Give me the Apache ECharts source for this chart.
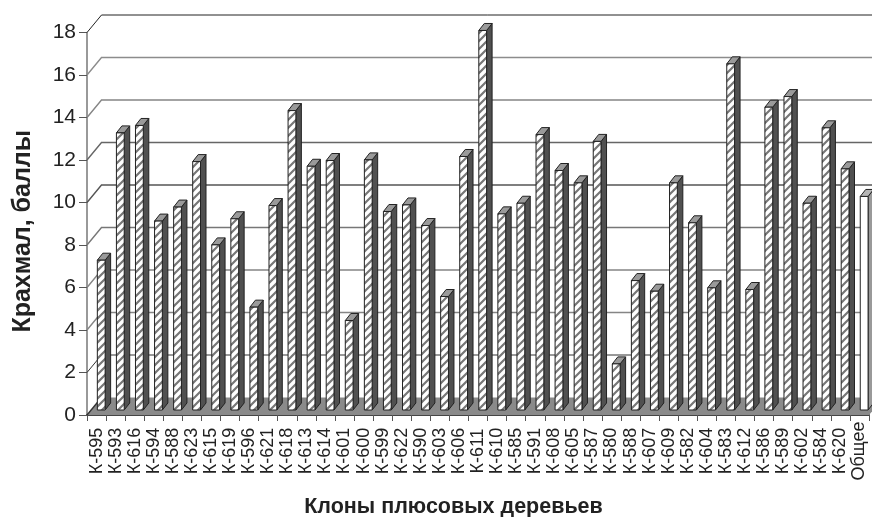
<!DOCTYPE html>
<html>
<head>
<meta charset="utf-8">
<style>
  html, body { margin: 0; padding: 0; background: #fff; }
  #chart { width: 872px; height: 517px; overflow: hidden; }
</style>
</head>
<body>
<div id="chart"></div>
<script src="https://cdn.jsdelivr.net/npm/echarts@6/dist/echarts.min.js"></script>
<script>
// chart data
var clones = ['К-595', 'К-593', 'К-616', 'К-594', 'К-588', 'К-623', 'К-615', 'К-619', 'К-596', 'К-621',
  'К-618', 'К-613', 'К-614', 'К-601', 'К-600', 'К-599', 'К-622', 'К-590', 'К-603', 'К-606',
  'К-611', 'К-610', 'К-585', 'К-591', 'К-608', 'К-605', 'К-587', 'К-580', 'К-588', 'К-607',
  'К-609', 'К-582', 'К-604', 'К-583', 'К-612', 'К-586', 'К-589', 'К-602', 'К-584', 'К-620', 'Общее']
var starch = [7.05, 13.04, 13.39, 8.89, 9.55, 11.69, 7.77, 9.0, 4.84, 9.62,
  14.09, 11.47, 11.74, 4.21, 11.77, 9.34, 9.65, 8.68, 5.34, 11.93,
  17.86, 9.23, 9.73, 12.96, 11.27, 10.69, 12.64, 2.17, 6.09, 5.59,
  10.69, 8.81, 5.75, 16.29, 5.67, 14.25, 14.75, 9.73, 13.28, 11.35, 10.05]
var yTicks = [0, 2, 4, 6, 8, 10, 12, 14, 16, 18]

// look of the 3d box
var WALL_DX = 14.5
var WALL_DY = 17.5
var BAR_DX = 5.5
var BAR_DY = 7
var BAR_SHIFT_X = 0.8
var BAR_SHIFT_Y = 5
var BAR_W = 7.8
var gridColors = { 18: '#222', 16: '#8c8c8c', 14: '#858585', 12: '#666', 10: '#555', 8: '#777', 6: '#858585', 4: '#858585', 2: '#333' }

function makeHatch() {
  var c = document.createElement('canvas')
  c.width = 8
  c.height = 8
  var ctx = c.getContext('2d')
  ctx.fillStyle = '#fff'
  ctx.fillRect(0, 0, 8, 8)
  ctx.strokeStyle = '#777'
  ctx.lineWidth = 2.2
  ctx.beginPath()
  ctx.moveTo(-2, 10)
  ctx.lineTo(10, -2)
  ctx.moveTo(-6, 6)
  ctx.lineTo(6, -6)
  ctx.moveTo(2, 14)
  ctx.lineTo(14, 2)
  ctx.stroke()
  return c
}
var hatch = { image: makeHatch(), repeat: 'repeat' }

function renderFloor(params) {
  var cs = params.coordSys
  var y0 = cs.y + cs.height
  var x0 = cs.x
  var x1 = cs.x + cs.width
  return {
    type: 'polygon',
    shape: { points: [[x0, y0], [x0 + WALL_DX, y0 - WALL_DY], [x1 + WALL_DX, y0 - WALL_DY], [x1, y0]] },
    style: { fill: '#8a8a8a', stroke: null }
  }
}

function renderWall(params, api) {
  var cs = params.coordSys
  var v = api.value(0)
  var y = api.coord([0, v])[1]
  var pts = [[cs.x, y], [cs.x + WALL_DX, y - WALL_DY]]
  if (v > 0) {
    pts.push([cs.x + cs.width + WALL_DX, y - WALL_DY])
  }
  return {
    type: 'polyline',
    shape: { points: pts },
    style: { fill: null, stroke: gridColors[v] || '#333', lineWidth: v === 18 || v === 2 ? 1 : 1.4 }
  }
}

function renderBar(params, api) {
  var i = api.value(0)
  var top = api.coord([i, api.value(1)])
  var base = api.coord([i, 0])
  var l = top[0] + BAR_SHIFT_X
  var r = l + BAR_W
  var t = top[1] - BAR_SHIFT_Y
  var b = base[1] - BAR_SHIFT_Y
  var total = i === clones.length - 1
  var edge = { stroke: '#222', lineWidth: 1 }
  return {
    type: 'group',
    children: [
      {
        type: 'polygon',
        shape: { points: [[r, b], [r + BAR_DX, b - BAR_DY], [r + BAR_DX, t - BAR_DY], [r, t]] },
        style: Object.assign({ fill: total ? '#999' : '#505050' }, edge)
      },
      {
        type: 'polygon',
        shape: { points: [[l, t], [l + BAR_DX, t - BAR_DY], [r + BAR_DX, t - BAR_DY], [r, t]] },
        style: Object.assign({ fill: total ? '#b5b5b5' : '#9a9a9a' }, edge)
      },
      {
        type: 'rect',
        shape: { x: l, y: t, width: BAR_W, height: b - t },
        style: Object.assign({ fill: total ? '#fff' : hatch }, edge)
      }
    ]
  }
}

var chart = echarts.init(document.getElementById('chart'), null, { renderer: 'canvas' })
chart.setOption({
  animation: false,
  backgroundColor: '#fff',
  textStyle: { fontFamily: 'Liberation Sans' },
  grid: { left: 87, right: 3, top: 32.5, bottom: 102, outerBoundsMode: 'none' },
  xAxis: {
    type: 'category',
    data: clones,
    name: 'Клоны плюсовых деревьев',
    nameLocation: 'middle',
    nameGap: 81,
    nameTextStyle: { fontFamily: 'Liberation Sans', fontWeight: 'bold', fontSize: 21.5, color: '#222', padding: [0, 49, 0, 0] },
    axisLine: { lineStyle: { color: '#444', width: 2 } },
    axisTick: { show: true, length: 6, lineStyle: { color: '#555', width: 1 } },
    axisLabel: { interval: 0, rotate: 90, align: 'center', verticalAlign: 'middle', margin: 36, fontSize: 18, color: '#222', fontFamily: 'Liberation Sans' },
    splitLine: { show: false }
  },
  yAxis: {
    type: 'value',
    min: 0,
    max: 18,
    interval: 2,
    name: 'Крахмал, баллы',
    nameLocation: 'middle',
    nameGap: 51,
    nameTextStyle: { fontFamily: 'Liberation Sans', fontWeight: 'bold', fontSize: 25, color: '#222', padding: [0, 15, 0, 0] },
    axisLine: { show: true, lineStyle: { color: '#777', width: 1.5 } },
    axisTick: { show: true, length: 8, lineStyle: { color: '#555', width: 1 } },
    axisLabel: { margin: 11, fontSize: 21, color: '#222', fontFamily: 'Liberation Sans' },
    splitLine: { show: false }
  },
  series: [
    { type: 'custom', z: 1, silent: true, data: [[0]], renderItem: renderFloor },
    { type: 'custom', z: 2, silent: true, data: yTicks.map(function(v) { return [v] }), renderItem: renderWall },
    {
      type: 'custom',
      z: 3,
      silent: true,
      encode: { x: 0, y: 1 },
      data: starch.map(function(v, i) { return [i, v] }),
      renderItem: renderBar
    }
  ]
})
</script>
</body>
</html>
